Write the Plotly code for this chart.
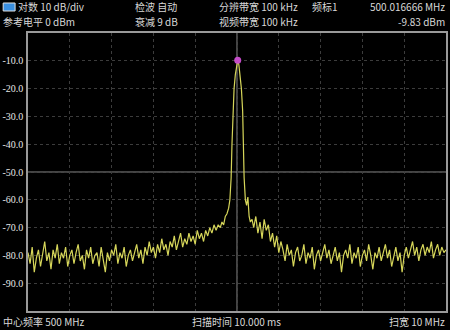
import numpy as np
import plotly.graph_objects as go

# ---------------- data ----------------
CENTER_MHZ = 500.0
SPAN_MHZ = 10.0
REF_DBM = 0.0
DIV_DB = 10.0

left_freqs = np.round(np.arange(495.00, 499.601, 0.05), 3)
left_levels = [
    -79, -83, -77, -86, -81, -78, -84, -80, -75, -82,
    -79, -85, -78, -81, -76, -83, -79, -81, -77, -84,
    -80, -78, -83, -79, -76, -82, -80, -85, -78, -81,
    -77, -83, -80, -79, -84, -77, -81, -86, -79, -82,
    -78, -80, -76, -83, -79, -81, -77, -84, -80, -78,
    -82, -79, -76, -81, -78, -83, -77, -80, -75, -79,
    -77, -81, -76, -79, -74, -78, -76, -80, -75, -77,
    -73, -78, -75, -72, -77, -74, -76, -72, -75, -73,
    -76, -71, -74, -72, -75, -71, -73, -70, -72, -69,
    -71, -69, -70,
]

mid_freqs = [499.64, 499.68, 499.72, 499.76, 499.80, 499.83, 499.86, 499.88,
             499.90, 499.93, 499.96, 499.99, 500.017, 500.045, 500.075,
             500.105, 500.135, 500.15, 500.17, 500.20, 500.23, 500.26,
             500.29, 500.32, 500.36]
mid_levels = [-68, -69, -66, -65, -63, -60, -52, -40,
              -28, -20, -15, -11.5, -9.83, -11.5, -15,
              -20, -28, -40, -52, -60, -62, -59,
              -66, -68, -67]

right_freqs = np.round(np.arange(500.40, 505.001, 0.05), 3)
right_levels = [
    -70, -66, -72, -68, -74, -67, -71, -69, -75, -72, -77, -73,
    -79, -75, -78, -82, -76, -80, -78, -84, -79, -77,
    -82, -80, -76, -83, -79, -81, -77, -85, -80, -78,
    -82, -79, -76, -81, -78, -83, -80, -77, -82, -79,
    -86, -80, -78, -81, -76, -83, -79, -81, -77, -84,
    -80, -78, -82, -76, -80, -85, -79, -81, -77, -82,
    -79, -76, -81, -78, -84, -80, -77, -82, -79, -86,
    -80, -77, -81, -78, -75, -80, -77, -82, -78, -76,
    -80, -77, -79, -75, -81, -78, -76, -80, -77, -79,
    -78,
]

marker_freq = 500.017
marker_level = -9.83

y_tick_vals = [-10, -20, -30, -40, -50, -60, -70, -80, -90]
y_tick_text = ["-10.0", "-20.0", "-30.0", "-40.0", "-50.0", "-60.0", "-70.0", "-80.0", "-90.0"]

freqs = list(left_freqs) + mid_freqs + list(right_freqs)
levels = left_levels + mid_levels + right_levels

# ---------------- figure ----------------
W, H = 450, 330
ML, MR, MT, MB = 27, 2, 33, 19
PW, PH = W - ML - MR, H - MT - MB

fig = go.Figure()
fig.add_trace(go.Scatter(x=freqs, y=levels, mode="lines",
                         line=dict(color="#d6d65a", width=1.2),
                         hoverinfo="skip", showlegend=False))
fig.add_trace(go.Scatter(x=[marker_freq], y=[marker_level], mode="markers",
                         marker=dict(color="#c44cc8", size=7),
                         showlegend=False))

fig.update_layout(
    width=W, height=H,
    margin=dict(l=ML, r=MR, t=MT, b=MB),
    paper_bgcolor="#000000", plot_bgcolor="#000000",
    xaxis=dict(range=[CENTER_MHZ - SPAN_MHZ / 2, CENTER_MHZ + SPAN_MHZ / 2],
               tick0=CENTER_MHZ - SPAN_MHZ / 2, dtick=1, showticklabels=False,
               showgrid=True, gridcolor="#3c3c3c", griddash="dot", gridwidth=1,
               zeroline=False, showline=True, linecolor="#9a9a9a", linewidth=1.5,
               mirror=True, ticks=""),
    yaxis=dict(range=[REF_DBM - 10 * DIV_DB, REF_DBM],
               tickvals=y_tick_vals, ticktext=y_tick_text,
               tickfont=dict(family="Liberation Serif", size=10, color="#e6e6e6"),
               showgrid=True, gridcolor="#3c3c3c", griddash="dot", gridwidth=1,
               zeroline=False, showline=True, linecolor="#9a9a9a", linewidth=1.5,
               mirror=True, ticks="", ticklabelstandoff=1),
)

# center graticule lines
fig.add_shape(type="line", xref="x", yref="paper", x0=CENTER_MHZ, x1=CENTER_MHZ,
              y0=0, y1=1, line=dict(color="#8a8a8a", width=1), layer="below")
fig.add_shape(type="line", xref="paper", yref="y", x0=0, x1=1,
              y0=REF_DBM - 5 * DIV_DB, y1=REF_DBM - 5 * DIV_DB,
              line=dict(color="#8a8a8a", width=1), layer="below")


def px_x(px):
    return (px - ML) / PW


def px_y(py):
    return (H - MB - py) / PH


TXT = dict(family="Noto Sans CJK SC", size=10, color="#d8d8d8")


def label(text, x, y, anchor="left"):
    fig.add_annotation(text=text, x=px_x(x), y=px_y(y), xref="paper", yref="paper",
                       xanchor=anchor, yanchor="middle", showarrow=False, font=TXT,
                       borderpad=0)


# blue icon
fig.add_shape(type="rect", xref="paper", yref="paper",
              x0=px_x(2), x1=px_x(14), y0=px_y(11), y1=px_y(3),
              fillcolor="#3a8fe0", line=dict(color="#e0e0e0", width=1))

label("对数 10 dB/div", 16, 7)
label("检波 自动", 134, 7)
label("分辨带宽 100 kHz", 218, 7)
label("频标1", 312, 7)
label("500.016666 MHz", 448, 7, "right")
label("参考电平 0 dBm", 1, 21)
label("衰减 9 dB", 134, 21)
label("视频带宽 100 kHz", 218, 21)
label("-9.83 dBm", 448, 21, "right")
label("中心频率 500 MHz", 1, 321)
label("扫描时间 10.000 ms", 191, 321)
label("扫宽 10 MHz", 448, 321, "right")

fig.write_html("out.html")
